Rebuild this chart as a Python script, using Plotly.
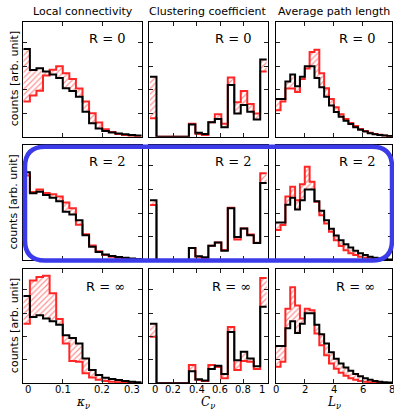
import numpy as np
import plotly.graph_objects as go

W, H = 394, 411

# ---------------- data (arbitrary units) ----------------
kappa_bin = 1 / 60
C_bin = 1 / 18
L_bin = 1 / 3

kappa_black = [3.73, 2.84, 2.91, 2.77, 2.65, 2.5, 2.06, 1.94, 1.7, 1.06, 0.57, 0.35,
               0.24, 0.18, 0.14, 0.1, 0.07, 0.05]
kappa_red_R0 = [1.5, 1.75, 1.95, 2.6, 2.85, 3.0, 2.7, 2.45, 2.05, 1.5, 1.0, 0.6,
                0.32, 0.2, 0.12, 0.07, 0.04, 0.02]
kappa_red_R2 = [3.6, 2.9, 3.0, 2.85, 2.8, 2.7, 2.45, 2.2, 1.5, 1.1, 0.62, 0.38,
                0.22, 0.15, 0.1, 0.07, 0.04, 0.02]
kappa_red_Rinf = [2.55, 4.4, 4.55, 4.6, 3.85, 2.75, 1.7, 0.95, 0.92, 0.43, 0.25, 0.15,
                  0.1, 0.07, 0.04, 0.03, 0.02, 0.01]

C_black = [2.55, 0, 0, 0, 0, 0, 0.52, 0.17, 0.12, 0.61, 0.75, 0.4,
           2.2, 0.99, 1.35, 1.06, 0.73, 3.28]
C_red_R0 = [0.78, 0, 0, 0, 0, 0, 0.55, 0.12, 0.07, 0.61, 0.95, 0.55,
            2.52, 1.46, 1.94, 1.39, 0.99, 2.77]
C_red_R2 = [2.34, 0, 0, 0, 0, 0, 0.52, 0.15, 0.08, 0.61, 0.75, 0.43,
            2.23, 0.88, 1.35, 1.09, 0.74, 3.69]
C_red_Rinf = [1.99, 0, 0, 0, 0, 0, 0.78, 0.14, 0.1, 0.78, 0.7, 0.22,
              2.41, 0.57, 0.95, 0.92, 0.61, 4.5]

L_black = [1.6, 1.6, 2.35, 2.65, 2.15, 2.55, 3.0, 3.0, 2.5, 2.1, 1.7, 1.33,
           1.05, 0.85, 0.68, 0.54, 0.4, 0.3, 0.22, 0.15, 0.1, 0.07, 0.05, 0.03]
L_red_R0 = [1.13, 1.5, 2.05, 2.05, 1.9, 2.45, 2.9, 3.6, 3.7, 2.7, 2.06, 1.6,
            1.25, 0.95, 0.75, 0.58, 0.45, 0.33, 0.24, 0.17, 0.12, 0.08, 0.05, 0.03]
L_red_R2 = [1.28, 1.49, 2.7, 3.12, 2.55, 3.22, 3.97, 3.33, 2.48, 1.91, 1.56, 1.21,
            0.85, 0.6, 0.42, 0.3, 0.22, 0.15, 0.1, 0.07, 0.05, 0.03, 0.02, 0.01]
L_red_Rinf = [0.71, 0.92, 3.19, 4.11, 3.33, 2.77, 3.19, 3.12, 2.13, 1.63, 1.2, 0.85,
              0.62, 0.45, 0.32, 0.22, 0.15, 0.1, 0.07, 0.05, 0.03, 0.02, 0.01, 0.01]

col_titles = ["Local connectivity", "Clustering coefficient", "Average path length"]
row_R = ["0", "2", "∞"]
y_title = "counts [arb. unit]"

kappa_ticks = [0, 0.1, 0.2, 0.3]
kappa_ticktext = ["0", "0.1", "0.2", "0.3"]
C_ticks = [0, 0.2, 0.4, 0.6, 0.8, 1.0]
C_ticktext = ["0", "0.2", "0.4", "0.6", "0.8", "1"]
L_ticks = [0, 2, 4, 6, 8]
L_ticktext = ["0", "2", "4", "6", "8"]
x_titles = ["<i>κ</i><sub><i>ν</i></sub>", "<i>C</i><sub><i>ν</i></sub>",
            "<i>L</i><sub><i>ν</i></sub>"]

columns = [
    dict(bin=kappa_bin, black=kappa_black, reds=[kappa_red_R0, kappa_red_R2, kappa_red_Rinf],
         range=[0, 0.3], ticks=kappa_ticks, text=kappa_ticktext, end_align=True),
    dict(bin=C_bin, black=C_black, reds=[C_red_R0, C_red_R2, C_red_Rinf],
         range=[-0.0086, 1.0086], ticks=C_ticks, text=C_ticktext, end_align=True),
    dict(bin=L_bin, black=L_black, reds=[L_red_R0, L_red_R2, L_red_Rinf],
         range=[0, 8], ticks=L_ticks, text=L_ticktext, end_align=False),
]

# ---------------- layout geometry (pixels) ----------------
col_px = [(23.3, 141.7), (149.0, 267.7), (275.7, 392.0)]
row_px = [(21.7, 136.7), (145.0, 260.2), (269.0, 383.3)]
Y_MAX = 4.89

RED = "#ff2626"
BLUE = "#3b3bea"
SANS = "DejaVu Sans"
SERIF = "DejaVu Serif"


def px_x(p):
    return p / W


def px_y(p):
    return 1 - p / H


fig = go.Figure()
annotations = []

for r in range(3):
    for c in range(3):
        i = r * 3 + c + 1
        sfx = "" if i == 1 else str(i)
        col = columns[c]
        black = col["black"]
        red = col["reds"][r]
        edges = np.arange(len(black) + 1) * col["bin"]
        yb = list(black) + [black[-1]]
        yr = list(red) + [red[-1]]
        common = dict(xaxis="x" + sfx, yaxis="y" + sfx, showlegend=False,
                      hoverinfo="skip", mode="lines")
        fig.add_trace(go.Scatter(x=edges, y=yb,
                                 line=dict(width=0, shape="hv", color="rgba(0,0,0,0)"),
                                 **common))
        fig.add_trace(go.Scatter(x=edges, y=yr,
                                 line=dict(width=2, shape="hv", color=RED),
                                 fill="tonexty", fillcolor="white",
                                 fillpattern=dict(shape="/", fgcolor=RED, bgcolor="white",
                                                  size=4, solidity=0.3),
                                 **common))
        fig.add_trace(go.Scatter(x=edges, y=yb,
                                 line=dict(width=2, shape="hv", color="black"),
                                 **common))

        x0, x1 = col_px[c]
        y0, y1 = row_px[r]
        axis_common = dict(showline=True, linecolor="black", linewidth=1, mirror="allticks",
                           ticks="inside", ticklen=4, tickwidth=1, tickcolor="#222",
                           showgrid=False, zeroline=False, showticklabels=False,
                           fixedrange=True)
        fig.layout["xaxis" + sfx] = dict(domain=[px_x(x0), px_x(x1)], range=col["range"],
                                         tickvals=col["ticks"], anchor="y" + sfx,
                                         **axis_common)
        fig.layout["yaxis" + sfx] = dict(domain=[px_y(y1), px_y(y0)], range=[0, Y_MAX],
                                         tickvals=[1, 2, 3, 4], anchor="x" + sfx,
                                         **axis_common)

        # R label
        annotations.append(dict(
            x=px_x(x1 - 15), y=px_y(y0 + 17), xref="paper", yref="paper",
            xanchor="right", yanchor="middle", showarrow=False,
            text=f"R = <span style='font-family:{SERIF}'>{row_R[r]}</span>",
            font=dict(family=SANS, size=13, color="black")))

        # bottom-row tick labels and axis title
        if r == 2:
            n = len(col["ticks"])
            for k, (tv, tt) in enumerate(zip(col["ticks"], col["text"])):
                anchor = "center"
                if col["end_align"] and k == 0:
                    anchor = "left"
                elif col["end_align"] and k == n - 1:
                    anchor = "right"
                annotations.append(dict(
                    x=tv, y=px_y(389.5), xref="x" + sfx, yref="paper",
                    xanchor=anchor, yanchor="middle", showarrow=False, text=tt,
                    font=dict(family=SANS, size=10, color="black")))
            annotations.append(dict(
                x=px_x((x0 + x1) / 2), y=px_y(402.5), xref="paper", yref="paper",
                xanchor="center", yanchor="middle", showarrow=False, text=x_titles[c],
                font=dict(family=SERIF, size=12, color="black")))

    # y axis title for the row
    y0, y1 = row_px[r]
    annotations.append(dict(
        x=px_x(14), y=px_y((y0 + y1) / 2), xref="paper", yref="paper",
        xanchor="center", yanchor="middle", showarrow=False, textangle=-90,
        text=y_title, font=dict(family=SANS, size=11, color="black")))

# column titles
for c in range(3):
    x0, x1 = col_px[c]
    annotations.append(dict(
        x=px_x((x0 + x1) / 2), y=px_y(12), xref="paper", yref="paper",
        xanchor="center", yanchor="middle", showarrow=False, text=col_titles[c],
        font=dict(family=SANS, size=11, color="black")))

# blue rounded highlight around the middle row
bx0, bx1 = px_x(25.0), px_x(392.0)
byt, byb = px_y(146.7), px_y(260.5)
rx, ry = 20 / W, 20 / H
path = (f"M {bx0 + rx},{byt} L {bx1 - rx},{byt} Q {bx1},{byt} {bx1},{byt - ry} "
        f"L {bx1},{byb + ry} Q {bx1},{byb} {bx1 - rx},{byb} "
        f"L {bx0 + rx},{byb} Q {bx0},{byb} {bx0},{byb + ry} "
        f"L {bx0},{byt - ry} Q {bx0},{byt} {bx0 + rx},{byt} Z")

fig.update_layout(
    width=W, height=H,
    margin=dict(l=0, r=0, t=0, b=0),
    paper_bgcolor="white", plot_bgcolor="white",
    annotations=annotations,
    shapes=[dict(type="path", path=path, xref="paper", yref="paper",
                 line=dict(color=BLUE, width=4.5), layer="above")],
)

fig.write_html("out.html",
               config={"displayModeBar": False, "staticPlot": True},
               post_script="document.body.style.margin='0';document.body.style.overflow='hidden';")
